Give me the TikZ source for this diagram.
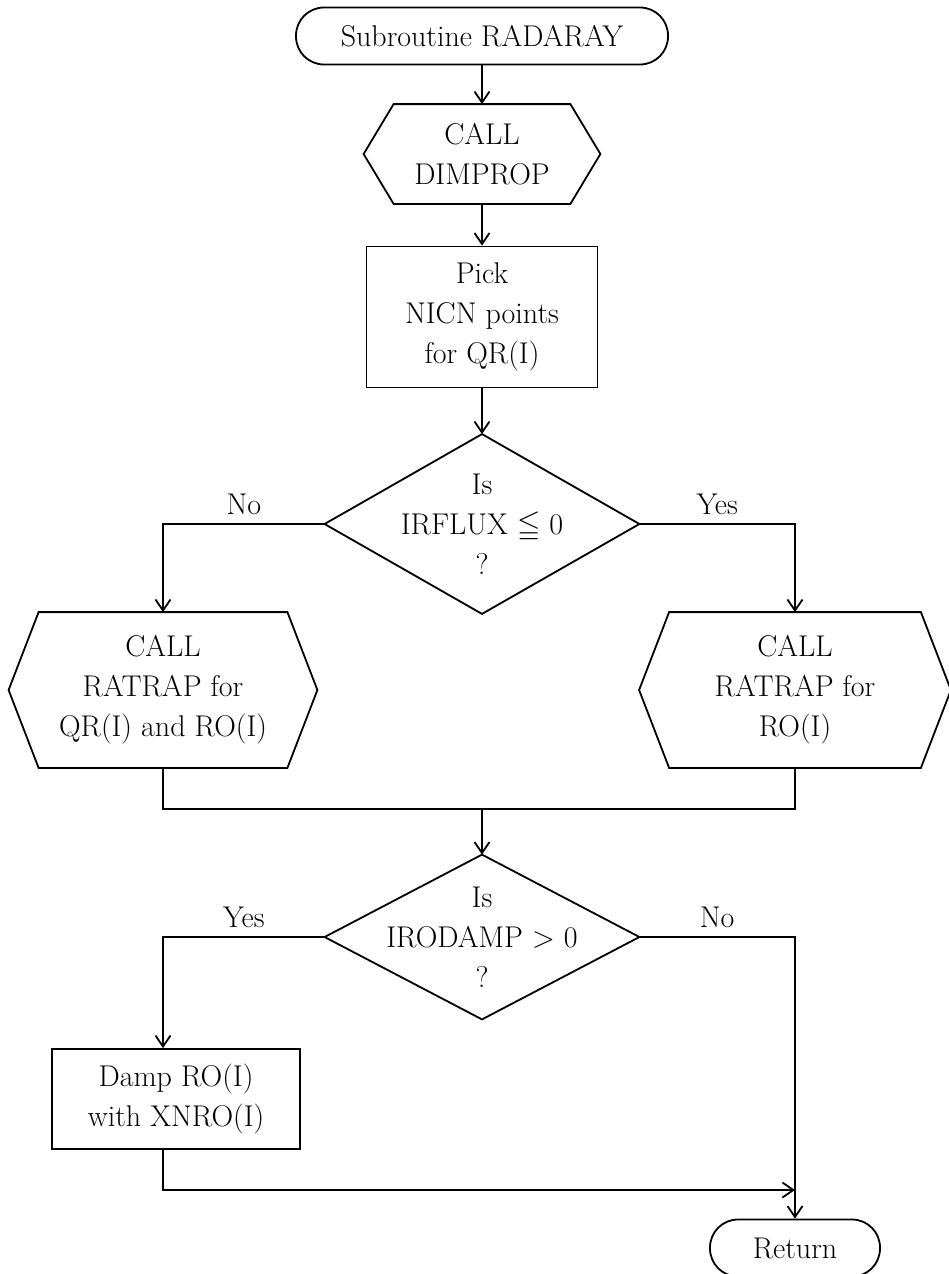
\documentclass[tikz,border=0pt]{standalone}
\usepackage{fontspec}
\usepackage{amssymb}
\usetikzlibrary{arrows.meta}

\tikzset{
    every node/.style={font=\fontsize{30}{40}\selectfont, align=center, inner sep=0pt},
    startstop/.style={draw, rounded corners=28pt, minimum height=57pt},
    procbox/.style={draw},
    callbox/.style={minimum height=154pt},
    decision/.style={minimum width=313pt},
    flow/.style={->, >={Straight Barb[length=11pt, width=15pt]}}
}

\begin{document}
\begin{tikzpicture}[x=1pt, y=-1pt, line width=1.8pt]
        \useasboundingbox (0,0) rectangle (949,1274);

        % Main column
        \node[startstop, minimum width=372pt] (start) at (482,36) {Subroutine RADARAY};
        \node[callbox, minimum width=175pt, minimum height=98pt] (dimprop) at (482,154) {CALL\\DIMPROP};
        \node[procbox, minimum width=231pt, minimum height=141pt] (pick) at (482,317) {Pick\\NICN points\\for QR(I)};
        \node[decision, minimum height=178pt] (ifflux) at (482,524) {Is\\IRFLUX $\leqq$ 0\\?};

        % Branches of the first test
        \node[callbox, minimum width=247pt] (callqr) at (163,690) {CALL\\RATRAP for\\QR(I) and RO(I)};
        \node[callbox, minimum width=250pt] (callro) at (795,690) {CALL\\RATRAP for\\RO(I)};
        \coordinate (merge) at (482,809);

        % Second test and exit
        \node[decision, minimum height=163pt] (ifdamp) at (482,937) {Is\\IRODAMP > 0\\?};
        \node[procbox, minimum width=248pt, minimum height=100pt] (damp) at (176,1099) {Damp RO(I)\\with XNRO(I)};
        \coordinate (meet) at (795,1190);
        \node[startstop, minimum width=170pt] (return) at (795,1248) {Return};

        % Hexagon outlines
        \foreach \n in {dimprop, callqr, callro} {
            \draw (\n.north west) -- (\n.north east) -- ([xshift=30pt]\n.east) -- (\n.south east) -- (\n.south west) -- ([xshift=-30pt]\n.west) -- cycle;
        }
        % Diamond outlines
        \foreach \n in {ifflux, ifdamp} {
            \draw (\n.north) -- (\n.east) -- (\n.south) -- (\n.west) -- cycle;
        }

        % Connectors
        \draw[flow] (start) -- (dimprop);
        \draw[flow] (dimprop) -- (pick);
        \draw[flow] (pick) -- (ifflux);
        \draw[flow] (ifflux.west) -| node[pos=0.25, above=8pt] (no1) {No} (callqr.north);
        \draw[flow] (ifflux.east) -| node[pos=0.25, above=8pt] (yes1) {Yes} (callro.north);
        \draw (callqr.south) |- (merge) -| (callro.south);
        \draw[flow] (merge) -- (ifdamp);
        \draw[flow] (ifdamp.west) -| node[pos=0.25, above=8pt] (yes2) {Yes} (callqr.south |- damp.north);
        \draw[flow] (ifdamp.east) -| node[pos=0.25, above=8pt] (no2) {No} (return);
        \draw[flow] (callqr.south |- damp.south) |- (meet);

    \end{tikzpicture}
\end{document}
